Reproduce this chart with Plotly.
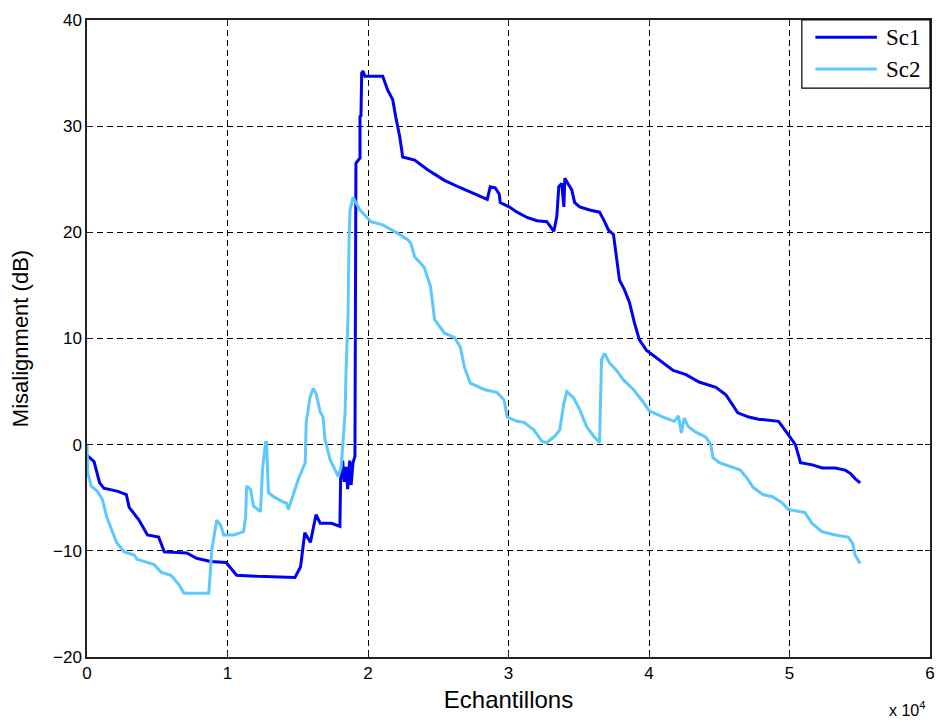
import plotly.graph_objects as go

# Sample index (Echantillons) and misalignment in dB for each scenario
sc1_x = [0, 500, 900, 1200, 2200, 2800, 3000, 3700, 4300, 5100, 5500, 7100, 7800, 8800,
         9900, 10650, 12100, 14800, 15200, 15500, 15900, 16300, 16600, 17400, 18000, 18050,
         18200, 18300, 18450, 18550, 18700, 18800, 18930, 19070, 19140, 19430, 19430, 19500,
         19550, 19640, 19780, 21050, 21400, 21760, 21970, 22260, 22470, 23320, 24240, 25440,
         26570, 28270, 28490, 28700, 29050, 29340, 29410, 30040, 30610, 31320, 32030, 32730,
         33230, 33440, 33580, 33790, 33940, 34010, 34290, 34500, 34710, 35070, 35770, 36480,
         36770, 37120, 37470, 37690, 37900, 38250, 38610, 38960, 39310, 39810, 40510, 41720,
         42640, 43560, 44760, 45470, 46320, 47100, 47800, 49220, 49500, 49920, 50420, 50640,
         50780, 51630, 52330, 53250, 53960, 54320, 54670, 55030]
sc1_y = [-1.0, -1.6, -3.6, -4.1, -4.4, -4.7, -5.9, -7.1, -8.5, -8.7, -10.1, -10.2, -10.7, -11.0,
         -11.1, -12.3, -12.4, -12.5, -11.5, -8.3, -9.2, -6.6, -7.4, -7.4, -7.7, -3.3,
         -1.5, -3.5, -2.1, -4.2, -1.5, -3.8, -1.7, -1.1, 26.5, 27.0, 30.9, 31.0,
         35.0, 35.2, 34.7, 34.7, 33.4, 32.5, 30.9, 29.0, 27.1, 26.8, 25.9, 24.9,
         24.2, 23.2, 23.1, 24.3, 24.2, 23.6, 22.8, 22.4, 21.9, 21.4, 21.1, 21.0,
         20.1, 21.5, 24.3, 24.6, 22.4, 25.1, 24.5, 24.0, 22.8, 22.4, 22.1, 21.9,
         21.2, 20.2, 19.8, 17.7, 15.5, 14.6, 13.4, 11.5, 9.9, 8.9, 8.2, 7.0,
         6.6, 5.9, 5.4, 4.7, 3.0, 2.6, 2.4, 2.2, 1.7, 0.9, 0.0, -1.0,
         -1.7, -1.9, -2.2, -2.2, -2.4, -2.7, -3.2, -3.6]

sc2_x = [0, 50, 300, 750, 1100, 1400, 1750, 2100, 2650, 3360, 3570, 4280, 4780, 5270, 5980,
         6550, 6900, 7600, 8670, 8740, 8880, 9160, 9240, 9520, 9730, 10440, 11140, 11290,
         11360, 11640, 11850, 12350, 12490, 12710, 12780, 12910, 13270, 13970, 14200, 14330,
         14540, 15030, 15530, 15600, 15880, 16100, 16310, 16590, 16800, 16940, 17300, 17880,
         18090, 18370, 18440, 18580, 18650, 18720, 18930, 19430, 20210, 21050, 22120, 22830,
         23040, 23320, 24000, 24450, 24740, 25440, 26150, 26570, 26860, 27280, 28270, 29190,
         29690, 29900, 30610, 31100, 31800, 32380, 32730, 33300, 33650, 33940, 34150, 34640,
         35070, 35560, 36060, 36480, 36620, 36840, 37190, 37690, 38180, 38890, 39600, 40000,
         41000, 41800, 42100, 42300, 42500, 42800, 43300, 44050, 44400, 44550, 45000, 45700,
         46500, 47000, 47400, 48100, 48800, 49500, 49900, 51100, 51600, 52300, 53250, 54170,
         54500, 54670, 55030]
sc2_y = [0.0, -2.6, -3.9, -4.4, -5.2, -6.8, -8.0, -9.2, -10.1, -10.4, -10.8, -11.1, -11.3, -12.0, -12.3,
         -13.2, -14.0, -14.0, -14.0, -12.7, -9.9, -7.7, -7.1, -7.6, -8.5, -8.5, -8.2, -6.8,
         -3.9, -4.2, -5.8, -6.3, -2.4, 0.2, 0.2, -4.5, -4.9, -5.4, -5.5, -6.1,
         -5.2, -3.3, -1.7, 2.1, 4.5, 5.3, 4.8, 3.1, 2.6, 0.5, -1.4, -3.0,
         -2.1, 3.0, 7.1, 12.1, 19.3, 22.1, 23.3, 22.1, 21.0, 20.7, 19.9, 19.3,
         19.0, 17.7, 16.7, 14.9, 11.8, 10.5, 10.1, 9.2, 7.3, 5.8, 5.2, 4.9,
         4.2, 2.6, 2.2, 2.1, 1.4, 0.3, 0.2, 0.8, 1.4, 3.9, 5.0, 4.4,
         3.3, 1.7, 0.8, 0.2, 8.0, 8.6, 7.7, 7.0, 6.1, 5.2, 4.0, 3.2,
         2.6, 2.2, 2.7, 1.1, 2.5, 1.7, 1.2, 0.7, 0.0, -1.2, -1.7, -2.0,
         -2.4, -3.2, -4.0, -4.7, -4.9, -5.5, -6.1, -6.4, -7.4, -8.2, -8.5, -8.7,
         -9.3, -10.4, -11.2]

x_ticks = [0, 10000, 20000, 30000, 40000, 50000, 60000]
x_tick_text = ["0", "1", "2", "3", "4", "5", "6"]
y_ticks = [-20, -10, 0, 10, 20, 30, 40]

series_names = ["Sc1", "Sc2"]
series_colors = ["#0000F5", "#5CC8FF"]

sans = "Liberation Sans, Arial, sans-serif"
serif = "Liberation Serif, Times New Roman, serif"

fig = go.Figure()
for name, xs, ys, col in zip(series_names, [sc1_x, sc2_x], [sc1_y, sc2_y], series_colors):
    fig.add_trace(go.Scatter(x=xs, y=ys, mode="lines", name=name, showlegend=False,
                             line=dict(color=col, width=3)))

axis_font = dict(family=sans, size=17, color="#000")
fig.update_layout(
    width=942, height=723,
    margin=dict(l=87, r=7, t=20, b=66),
    paper_bgcolor="white", plot_bgcolor="white",
    xaxis=dict(range=[0, 60000], tickvals=x_ticks, ticktext=x_tick_text,
               showgrid=True, gridcolor="#000", gridwidth=1, griddash="6px,4px",
               zeroline=False, showline=True, linecolor="#222", linewidth=1.5, mirror="allticks",
               ticks="inside", ticklen=5, tickcolor="#222", tickfont=axis_font,
               title=dict(text="Echantillons", standoff=9,
                          font=dict(family=sans, size=24, color="#000"))),
    yaxis=dict(range=[-20, 40], tickvals=y_ticks,
               showgrid=True, gridcolor="#000", gridwidth=1, griddash="6px,4px",
               zeroline=False, showline=True, linecolor="#222", linewidth=1.5, mirror="allticks",
               ticks="inside", ticklen=5, tickcolor="#222", tickfont=axis_font,
               title=dict(text="Misalignment (dB)", standoff=18,
                          font=dict(family=sans, size=22, color="#000"))),
)

# legend box in the top-right corner of the axes
box_x0, box_y0 = 0.848, 0.893
fig.add_shape(type="rect", xref="paper", yref="paper", x0=box_x0, y0=box_y0, x1=1, y1=1,
              line=dict(color="#000", width=1.2), fillcolor="white", layer="above")
legend_rows = [0.973, 0.923]
for name, col, ry in zip(series_names, series_colors, legend_rows):
    fig.add_shape(type="line", xref="paper", yref="paper", x0=0.864, x1=0.937, y0=ry, y1=ry,
                  line=dict(color=col, width=3), layer="above")
    fig.add_annotation(x=0.946, y=ry, xref="paper", yref="paper", xanchor="left", yanchor="middle",
                       showarrow=False, text=name,
                       font=dict(family=serif, size=23, color="#000"))

# exponent label for the sample axis
fig.add_annotation(x=1, y=0, xref="paper", yref="paper", xanchor="right", yanchor="top",
                   yshift=-40, xshift=-3, showarrow=False,
                   text="x 10<sup>4</sup>",
                   font=dict(family=sans, size=16, color="#000"))

fig.write_html("out.html")
